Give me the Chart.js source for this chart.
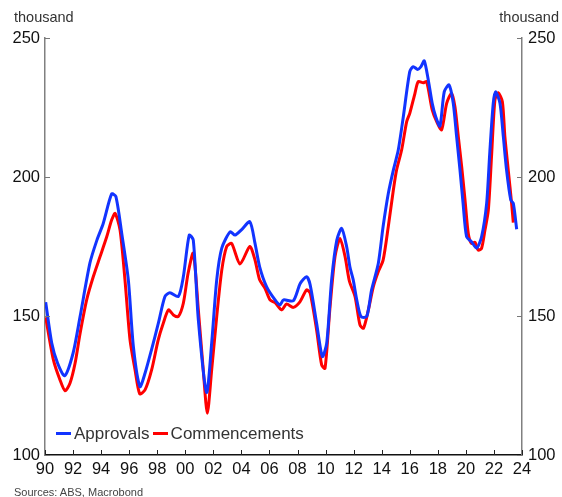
<!DOCTYPE html>
<html>
<head>
<meta charset="utf-8">
<script src="https://cdn.jsdelivr.net/npm/chart.js@4.4.1/dist/chart.umd.min.js"></script>
<style>
  html, body { margin: 0; padding: 0; background: #fff; }
  #wrap { position: relative; width: 562px; height: 497px; font-family: "Liberation Sans", Arial, sans-serif; }
  #chart { position: absolute; left: 0; top: 0; }
  .unit { position: absolute; top: 9px; font-size: 14.5px; color: #333; }
  #legend { position: absolute; left: 56px; top: 424px; font-size: 17px; color: #333; white-space: nowrap; }
  #legend span.sw { display: inline-block; width: 15px; height: 3px; vertical-align: middle; margin-right: 3px; position: relative; top: -1px; }
  #legend span.lb { margin-right: 3px; }
  #src { position: absolute; left: 14px; top: 486px; font-size: 11px; color: #444; }
</style>
</head>
<body>
<div id="wrap">
  <canvas id="chart" width="562" height="497"></canvas>
  <div class="unit" style="left:14px;">thousand</div>
  <div class="unit" style="right:3px;">thousand</div>
  <div id="legend"><span class="sw" style="background:#1234ff"></span><span class="lb">Approvals</span><span class="sw" style="background:#ff0000"></span><span class="lb">Commencements</span></div>
  <div id="src">Sources: ABS, Macrobond</div>
</div>
<script>
// Data (x = decimal year, y = thousand)
const approvalsDates = [1990.05,1990.48,1990.9,1991.4,1992.0,1992.5,1993.2,1993.7,1994.15,1994.75,1995.05,1995.47,1995.94,1996.3,1996.77,1997.13,1997.6,1998.08,1998.55,1998.9,1999.5,1999.86,2000.28,2000.57,2000.93,2001.52,2001.88,2002.24,2002.6,2003.2,2003.55,2004.0,2004.6,2004.97,2005.3,2005.8,2006.4,2006.75,2007.0,2007.7,2008.2,2008.65,2008.9,2009.36,2009.77,2010.08,2010.43,2010.8,2011.15,2011.5,2011.74,2011.97,2012.2,2012.52,2012.93,2013.28,2013.76,2014.1,2014.47,2014.83,2015.18,2015.54,2016.0,2016.25,2016.56,2016.8,2017.03,2017.32,2017.6,2017.85,2018.15,2018.46,2018.8,2019.1,2019.34,2019.58,2019.8,2020.05,2020.4,2020.77,2021.12,2021.48,2021.7,2021.95,2022.12,2022.43,2022.67,2022.9,2023.2,2023.38,2023.62];
const approvalsValues = [155,140.3,133,128.5,136.6,149.8,169,177.3,183.3,193.9,193,179.7,163,139,124.6,129.4,138,147.4,157,158.4,157,164.1,179.1,177.3,148.6,122.5,140.2,163,174.4,180.3,179.1,181,183.9,176.1,167.7,160.5,155.8,154,155.8,155.5,161.8,164.1,161.2,147.4,135.4,140.2,163,177.3,181.5,175,167.5,163,156.4,149.8,149.8,159.4,169,182.2,194.1,202.5,209.7,221.7,237.9,239.7,238.7,239.7,241.8,234.9,226.5,221.7,218.3,230.7,233.1,226.5,214.5,202.5,190.5,178.5,176.7,174.4,178.5,190.5,208.5,226.5,230.7,226.5,214.5,202.5,191.7,190.5,181.2];
const commencementsDates = [1990.05,1990.6,1991.07,1991.43,1991.78,1992.14,1992.5,1992.97,1993.44,1993.92,1994.4,1994.75,1995.0,1995.35,1995.7,1996.06,1996.42,1996.75,1997.13,1997.6,1998.07,1998.43,1998.8,1999.15,1999.5,1999.86,2000.2,2000.57,2000.93,2001.28,2001.57,2001.88,2002.24,2002.6,2002.95,2003.3,2003.9,2004.6,2004.97,2005.3,2005.68,2006.04,2006.4,2006.87,2007.22,2007.7,2008.17,2008.65,2008.9,2009.36,2009.72,2009.96,2010.3,2010.67,2011.03,2011.39,2011.7,2012.1,2012.45,2012.7,2013.05,2013.4,2013.76,2014.1,2014.47,2014.83,2015.06,2015.42,2015.78,2016.0,2016.37,2016.6,2016.96,2017.2,2017.6,2017.92,2018.27,2018.63,2018.98,2019.22,2019.46,2019.7,2019.94,2020.17,2020.4,2020.65,2020.88,2021.12,2021.36,2021.6,2021.84,2022.07,2022.3,2022.6,2022.78,2023.02,2023.26,2023.38];
const commencementsValues = [149.5,134.2,127,123.1,125.8,132.9,143.7,155.8,164.1,171.3,178.5,184.5,186.9,180.9,163,141.4,130.6,122,123.4,130.6,141.4,147.4,152.2,150.4,149.8,154.6,165.4,172.6,152.2,130.6,115,130.6,149.8,166.5,175,176.1,168.7,175,170.1,163,160,155.8,154.8,152.2,154.3,153.1,155.1,159.4,158.2,145,132.4,131.2,152.2,171.3,177.9,171.3,162.5,157,146.8,145.6,152.2,160.5,166,170.1,182.2,195.3,202.5,209.7,219.9,222.9,230.1,234.3,233.9,234.3,224.1,219.9,217,226.5,230.1,225.3,214.5,203.7,191.7,179.7,176.1,176.5,173.7,174.4,180.9,188.1,208.5,227.7,230.3,227.1,214.5,202.5,190.5,183.6];
const xMin = 1990, xMax = 2024, xStep = 2;
const yMin = 100, yMax = 250, yStep = 50;
const seriesNames = ['Approvals', 'Commencements'];
const seriesColors = ['#1234ff', '#ff0000'];

const toPts = (xs, ys) => xs.map((x, i) => ({x: x, y: ys[i]}));

const innerTicks = {
  id: 'innerTicks',
  afterDraw(chart) {
    const ctx = chart.ctx, a = chart.chartArea;
    ctx.save();
    ctx.lineWidth = 1;
    const xs = chart.scales.x;
    ctx.strokeStyle = '#222';
    xs.ticks.forEach(t => {
      const px = Math.round(xs.getPixelForValue(t.value)) + 0.5;
      ctx.beginPath(); ctx.moveTo(px, a.bottom); ctx.lineTo(px, a.bottom - 5); ctx.stroke();
    });
    ctx.strokeStyle = '#777';
    const yl = chart.scales.y, yr = chart.scales.y2;
    yl.ticks.forEach(t => {
      const py = Math.round(yl.getPixelForValue(t.value)) + 0.5;
      ctx.beginPath(); ctx.moveTo(a.left, py); ctx.lineTo(a.left + 5, py); ctx.stroke();
    });
    yr.ticks.forEach(t => {
      const py = Math.round(yr.getPixelForValue(t.value)) + 0.5;
      ctx.beginPath(); ctx.moveTo(a.right, py); ctx.lineTo(a.right - 5, py); ctx.stroke();
    });
    ctx.restore();
  }
};

const tickFont = {family: '"Liberation Sans", Arial, sans-serif', size: 16.5};

new Chart(document.getElementById('chart'), {
  type: 'line',
  data: {
    datasets: [
      {label: seriesNames[0], data: toPts(approvalsDates, approvalsValues), borderColor: seriesColors[0], borderWidth: 3, pointRadius: 0, tension: 0.25, yAxisID: 'y'},
      {label: seriesNames[1], data: toPts(commencementsDates, commencementsValues), borderColor: seriesColors[1], borderWidth: 3, pointRadius: 0, tension: 0.25, yAxisID: 'y'}
    ]
  },
  options: {
    responsive: false,
    animation: false,
    layout: {padding: {top: 38, left: 0, right: 0, bottom: 0}},
    plugins: {legend: {display: false}, tooltip: {enabled: false}},
    scales: {
      x: {
        type: 'linear', min: xMin, max: xMax,
        afterFit(s) { s.height = 42; },
        afterBuildTicks(s) { const t = []; for (let v = xMin; v <= xMax; v += xStep) t.push({value: v}); s.ticks = t; },
        ticks: {autoSkip: false, maxRotation: 0, padding: 5, color: '#111', font: tickFont,
          callback: v => String(v % 100).padStart(2, '0')},
        grid: {display: false, drawTicks: false},
        border: {display: true, color: '#111', width: 1.5}
      },
      y: {
        position: 'left', min: yMin, max: yMax,
        afterFit(s) { s.width = 45; },
        ticks: {stepSize: yStep, padding: 5, color: '#111', font: tickFont},
        grid: {display: false, drawTicks: false},
        border: {display: true, color: '#808080', width: 1.5}
      },
      y2: {
        position: 'right', min: yMin, max: yMax,
        afterFit(s) { s.width = 40; },
        ticks: {stepSize: yStep, padding: 6, color: '#111', font: tickFont},
        grid: {display: false, drawTicks: false},
        border: {display: true, color: '#808080', width: 1.5}
      }
    }
  },
  plugins: [innerTicks]
});
</script>
</body>
</html>
